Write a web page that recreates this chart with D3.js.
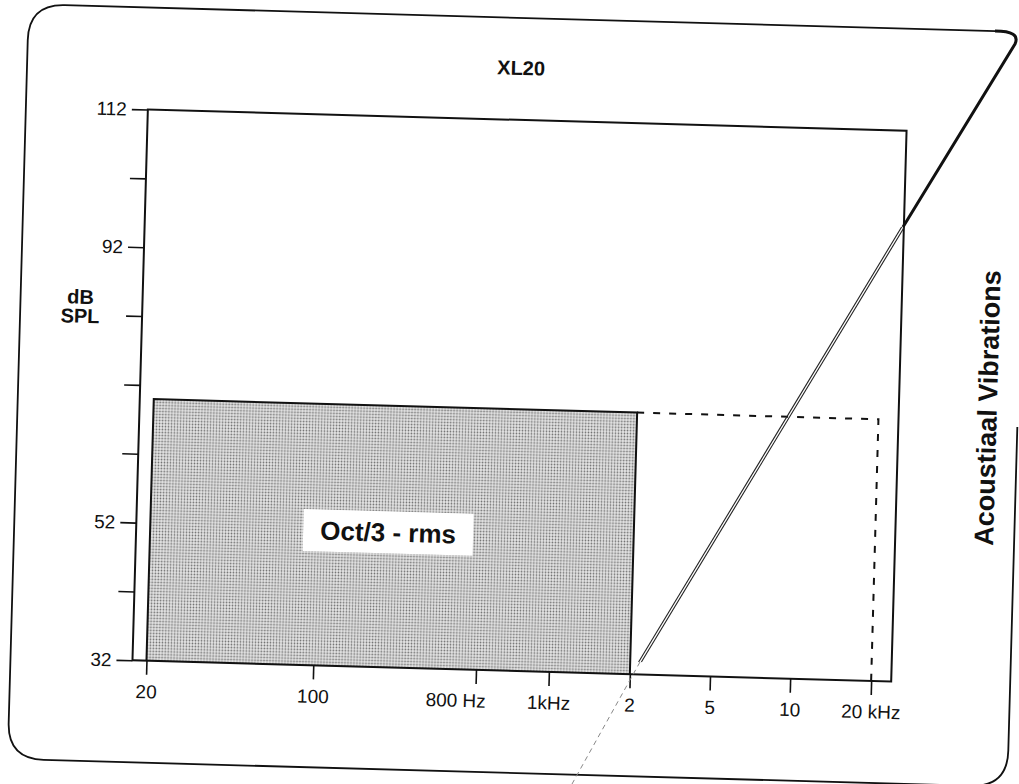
<!DOCTYPE html>
<html>
<head>
<meta charset="utf-8">
<script src="https://cdn.jsdelivr.net/npm/d3@7/dist/d3.min.js"></script>
<style>
  html, body { margin: 0; padding: 0; background: #fff; }
  svg { display: block; }
  text { font-family: "Liberation Sans", Arial, Helvetica, sans-serif; fill: #111; }
</style>
</head>
<body>
<svg id="chart" width="1019" height="784"></svg>
<script>
// ---- data ----
const title = "XL20";
const yTitleLines = ["dB", "SPL"];
const sideTitle = "Acoustiaal Vibrations";
const bandLabel = "Oct/3 - rms";
const freqTicks = [20, 100, 800, 1000, 2000, 5000, 10000, 20000];
const freqLabels = ["20", "100", "800 Hz", "1kHz", "2", "5", "10", "20 kHz"];
const dbTicks = [32, 42, 52, 62, 72, 82, 92, 102, 112];
const dbLabels = ["32", "", "52", "", "", "", "92", "", "112"];
const measuredFreq = [20, 2000];
const measuredLevel = 70;
const extendedFreq = [2000, 20000];
const extendedLevel = 70;

// ---- layout ----
const W = 1019, H = 784;
const frame = { x0: 140, x1: 899, y0: 120, y1: 671 };
const axisStart = 154, unit = 81;
const tickUnits = [0, 2.06, 4.07, 4.97, 5.97, 6.96, 7.95, 8.95];
const tilt = 1.6, cx = 519, cy = 396;

const svg = d3.select("#chart");
const defs = svg.append("defs");
const pat = defs.append("pattern").attr("id", "halftone")
  .attr("patternUnits", "userSpaceOnUse").attr("width", 3).attr("height", 3);
pat.append("rect").attr("width", 3).attr("height", 3).attr("fill", "#e6e6e6");
pat.append("circle").attr("cx", 1.5).attr("cy", 1.5).attr("r", 0.9).attr("fill", "#707070");

const g = svg.append("g").attr("transform", `rotate(${tilt},${cx},${cy})`);

const x = d3.scaleLinear().domain(freqTicks).range(tickUnits.map(u => axisStart + u * unit));
const y = d3.scaleLinear().domain([32, 112]).range([frame.y1, frame.y0]);

// outer rounded border (page frame), right side only lower part
const r = 36, bx0 = 18, bx1 = 1018, by0 = 18, by1 = 773;
g.append("path")
  .attr("d", `M${bx1},413 L${bx1},${by1 - r} Q${bx1},${by1} ${bx1 - r},${by1} L${bx0 + r},${by1} Q${bx0},${by1} ${bx0},${by1 - r} L${bx0},${by0 + r} Q${bx0},${by0} ${bx0 + r},${by0} L985,${by0}`)
  .attr("fill", "none").attr("stroke", "#111").attr("stroke-width", 1.8);

// title
g.append("text").attr("x", 512).attr("y", 75).attr("text-anchor", "middle")
  .attr("font-size", 20).attr("font-weight", "bold").text(title);

// y title
g.append("text").attr("text-anchor", "middle").attr("font-size", 20).attr("font-weight", "bold")
  .selectAll("tspan").data(yTitleLines).join("tspan")
  .attr("x", 78).attr("y", (d, i) => 316 + i * 19).text(d => d);

// side title
g.append("text").attr("transform", `translate(997,395) rotate(-90)`)
  .attr("text-anchor", "middle").attr("font-size", 27).attr("font-weight", "bold").text(sideTitle);

// shaded measured band
g.append("rect")
  .attr("x", x(measuredFreq[0])).attr("y", y(measuredLevel))
  .attr("width", x(measuredFreq[1]) - x(measuredFreq[0]))
  .attr("height", y(32) - y(measuredLevel))
  .attr("fill", "url(#halftone)");
g.append("path")
  .attr("d", d3.line()([[x(measuredFreq[0]), y(32)], [x(measuredFreq[0]), y(measuredLevel)],
                         [x(measuredFreq[1]), y(measuredLevel)], [x(measuredFreq[1]), y(32)]]))
  .attr("fill", "none").attr("stroke", "#111").attr("stroke-width", 2);

// dashed extension
g.append("path")
  .attr("d", d3.line()([[x(extendedFreq[0]), y(extendedLevel)], [x(extendedFreq[1]), y(extendedLevel)],
                         [x(extendedFreq[1]), y(32)]]))
  .attr("fill", "none").attr("stroke", "#111").attr("stroke-width", 2)
  .attr("stroke-dasharray", "7,9");

// band label with white box
const lab = g.append("g").attr("transform", `translate(392,536)`);
lab.append("rect").attr("x", -85).attr("y", -21).attr("width", 170).attr("height", 42).attr("fill", "#fff");
lab.append("text").attr("text-anchor", "middle").attr("y", 9).attr("font-size", 26)
  .attr("font-weight", "bold").text(bandLabel);

// plot frame
g.append("rect").attr("x", frame.x0).attr("y", frame.y0)
  .attr("width", frame.x1 - frame.x0).attr("height", frame.y1 - frame.y0)
  .attr("fill", "none").attr("stroke", "#111").attr("stroke-width", 2);

// x axis
const xAxis = d3.axisBottom(x).tickValues(freqTicks)
  .tickFormat((d, i) => freqLabels[i]).tickSize(14).tickPadding(10);
const xg = g.append("g").attr("transform", `translate(0,${frame.y1})`).call(xAxis);
xg.select(".domain").remove();
xg.selectAll(".tick line").attr("stroke", "#111").attr("stroke-width", 1.6);
xg.selectAll(".tick text").attr("font-size", 19).attr("font-family", null).attr("fill", "#111")
  .attr("dx", (d, i) => freqLabels[i] === "800 Hz" ? -20 : 0);

// y axis
const yAxis = d3.axisLeft(y).tickValues(dbTicks)
  .tickFormat((d, i) => dbLabels[i]).tickSize(16).tickPadding(5);
const yg = g.append("g").attr("transform", `translate(${frame.x0},0)`).call(yAxis);
yg.select(".domain").remove();
yg.selectAll(".tick line").attr("stroke", "#111").attr("stroke-width", 1.6);
yg.selectAll(".tick text").attr("font-size", 19).attr("font-family", null).attr("fill", "#111");

// diagonal fold line across the scanned page (screen space)
svg.append("path").attr("d", "M995,31 Q1021,31 1015,44 L903,227")
  .attr("fill", "none").attr("stroke", "#111").attr("stroke-width", 3);
[-1.4, 1.4].forEach(o => {
  svg.append("line").attr("x1", 903 + o).attr("y1", 227).attr("x2", 640 + o).attr("y2", 662)
    .attr("stroke", "#222").attr("stroke-width", 1.1);
});
svg.append("line").attr("x1", 640).attr("y1", 662).attr("x2", 572).attr("y2", 784)
  .attr("stroke", "#888").attr("stroke-width", 1).attr("stroke-dasharray", "5,4");
</script>
</body>
</html>
